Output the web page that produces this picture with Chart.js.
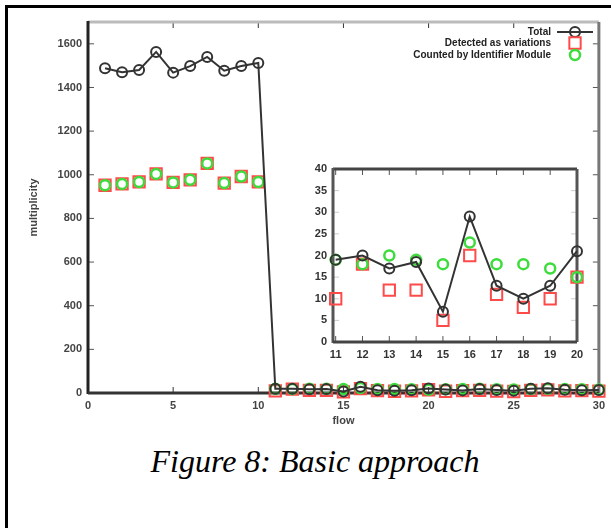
<!DOCTYPE html>
<html>
<head>
<meta charset="utf-8">
<script src="https://cdn.jsdelivr.net/npm/chart.js@4"></script>
<style>
  html, body { margin: 0; padding: 0; background: #fff; overflow: hidden; }
  body { width: 611px; height: 528px; position: relative; }
  .rule { position: absolute; background: #000; }
  #main { position: absolute; left: 0; top: 0; }
  #inset { position: absolute; left: 290px; top: 155px; }
  #caption { position: absolute; left: 0; width: 630px; top: 443px; text-align: center;
    font-family: "Liberation Serif", serif; font-style: italic; font-size: 32px; color: #000; }
</style>
</head>
<body>
<div class="rule" style="left:5px; top:5px; width:606px; height:3px;"></div>
<div class="rule" style="left:5px; top:5px; width:3px; height:523px;"></div>
<canvas id="main" width="611" height="440"></canvas>
<canvas id="inset" width="300" height="210"></canvas>
<div id="caption">Figure 8: Basic approach</div>
<script>
var flows = [1, 2, 3, 4, 5, 6, 7, 8, 9, 10, 11, 12, 13, 14, 15, 16, 17, 18, 19, 20, 21, 22, 23, 24, 25, 26, 27, 28, 29, 30];
var total = [1488, 1470, 1480, 1563, 1468, 1498, 1540, 1477, 1498, 1512,
  19, 20, 17, 18.5, 7, 29, 13, 10, 13, 21,
  16, 12, 18, 14, 10, 19, 22, 15, 13, 14];
var detected = [952, 958, 967, 1004, 965, 977, 1052, 962, 992, 967,
  10, 18, 12, 12, 5, 20, 11, 8, 10, 15,
  8, 11, 12, 9, 7, 12, 14, 10, 11, 9];
var counted = [952, 958, 967, 1004, 965, 977, 1052, 962, 992, 967,
  19, 18, 20, 19, 18, 23, 18, 18, 17, 15,
  17, 18, 19, 17, 16, 18, 20, 18, 17, 16];
var labels = ["Total", "Detected as variations", "Counted by Identifier Module"];

var mainXTicks = [0, 5, 10, 15, 20, 25, 30];
var mainYTicks = [0, 200, 400, 600, 800, 1000, 1200, 1400, 1600];
var insetXTicks = [11, 12, 13, 14, 15, 16, 17, 18, 19, 20];
var insetYTicks = [0, 5, 10, 15, 20, 25, 30, 35, 40];

var tickFont = { family: "Liberation Sans", size: 11, weight: "bold" };

function points(ys, from, to) {
  var out = [];
  for (var i = from; i < to; i++) out.push({ x: flows[i], y: ys[i] });
  return out;
}

function makeDatasets(from, to) {
  return [{
    label: labels[0],
    data: points(total, from, to),
    borderColor: "#333",
    borderWidth: 2,
    pointStyle: "circle",
    pointRadius: 5,
    pointBorderWidth: 2,
    pointBorderColor: "#333",
    pointBackgroundColor: "rgba(0,0,0,0)",
    showLine: true,
    order: 1
  }, {
    label: labels[1],
    data: points(detected, from, to),
    showLine: false,
    pointStyle: "rect",
    pointRadius: 8,
    pointBorderWidth: 2,
    pointBorderColor: "#ff4a4a",
    pointBackgroundColor: "rgba(0,0,0,0)",
    order: 3
  }, {
    label: labels[2],
    data: points(counted, from, to),
    showLine: false,
    pointStyle: "circle",
    pointRadius: 5,
    pointBorderWidth: 2.5,
    pointBorderColor: "#3ddc3d",
    pointBackgroundColor: "rgba(0,0,0,0)",
    order: 2
  }];
}

function fixTicks(values) {
  return function (scale) {
    scale.ticks = values.map(function (v) { return { value: v }; });
  };
}

function plain(v) { return String(v); }

// frame lines + inward tick marks
function framePlugin(style) {
  return {
    id: "frameLines",
    beforeDatasetsDraw: function (chart) {
      var a = chart.chartArea, ctx = chart.ctx;
      var xs = chart.scales.x, ys = chart.scales.y;
      ctx.save();
      ctx.lineWidth = 1;
      ctx.strokeStyle = style.tick;
      xs.ticks.forEach(function (t) {
        var px = xs.getPixelForValue(t.value);
        ctx.beginPath();
        ctx.moveTo(px, a.bottom); ctx.lineTo(px, a.bottom - 6);
        ctx.moveTo(px, a.top); ctx.lineTo(px, a.top + 6);
        ctx.stroke();
      });
      ctx.strokeStyle = style.ytick;
      ys.ticks.forEach(function (t) {
        var py = ys.getPixelForValue(t.value);
        ctx.beginPath();
        ctx.moveTo(a.left, py); ctx.lineTo(a.left + 6, py);
        ctx.moveTo(a.right, py); ctx.lineTo(a.right - 6, py);
        ctx.stroke();
      });
      ctx.lineWidth = 3;
      ctx.strokeStyle = style.top;
      ctx.beginPath(); ctx.moveTo(a.left, a.top); ctx.lineTo(a.right, a.top); ctx.stroke();
      ctx.strokeStyle = style.right;
      ctx.beginPath(); ctx.moveTo(a.right, a.top); ctx.lineTo(a.right, a.bottom); ctx.stroke();
      ctx.strokeStyle = style.left;
      ctx.beginPath(); ctx.moveTo(a.left, a.top - 1); ctx.lineTo(a.left, a.bottom + 1); ctx.stroke();
      ctx.strokeStyle = style.bottom;
      ctx.beginPath(); ctx.moveTo(a.left, a.bottom); ctx.lineTo(a.right, a.bottom); ctx.stroke();
      ctx.restore();
    }
  };
}

// legend in the top right, text on the left of its sample
var legendPlugin = {
  id: "keyBox",
  afterDraw: function (chart) {
    var ctx = chart.ctx;
    ctx.save();
    ctx.font = "bold 10px 'Liberation Sans'";
    ctx.fillStyle = "#222";
    ctx.textAlign = "right";
    ctx.textBaseline = "middle";
    var rows = [32, 43, 55];
    chart.data.datasets.forEach(function (ds, i) {
      var y = rows[i];
      ctx.fillText(ds.label, 551, y);
      if (ds.showLine) {
        ctx.strokeStyle = ds.borderColor;
        ctx.lineWidth = 2;
        ctx.beginPath(); ctx.moveTo(557, y); ctx.lineTo(593, y); ctx.stroke();
      }
      ctx.strokeStyle = ds.pointBorderColor;
      ctx.lineWidth = ds.pointBorderWidth;
      ctx.beginPath();
      if (ds.pointStyle === "rect") {
        var s = ds.pointRadius * Math.SQRT1_2;
        ctx.rect(575 - s, y - s, 2 * s, 2 * s);
      } else {
        ctx.arc(575, y, ds.pointRadius, 0, Math.PI * 2);
      }
      ctx.stroke();
    });
    ctx.restore();
  }
};

new Chart(document.getElementById("main").getContext("2d"), {
  type: "scatter",
  data: { datasets: makeDatasets(0, 30) },
  options: {
    responsive: false,
    animation: false,
    clip: false,
    layout: { padding: { left: 20, top: 22, right: 6, bottom: 0 } },
    plugins: { legend: { display: false }, tooltip: { enabled: false } },
    scales: {
      x: {
        type: "linear", min: 0, max: 30,
        afterBuildTicks: fixTicks(mainXTicks),
        afterFit: function (s) { s.height = 47; },
        grid: { display: false, drawTicks: false },
        border: { display: false },
        ticks: { font: tickFont, color: "#444", padding: 6, callback: plain },
        title: { display: true, text: "flow", font: tickFont, color: "#444", padding: { top: 0, bottom: 12 } }
      },
      y: {
        type: "linear", min: 0, max: 1700,
        afterBuildTicks: fixTicks(mainYTicks),
        afterFit: function (s) { s.width = 68; },
        grid: { display: false, drawTicks: false },
        border: { display: false },
        ticks: { font: tickFont, color: "#444", padding: 6, callback: plain },
        title: { display: true, text: "multiplicity", font: tickFont, color: "#444", padding: { top: 7, bottom: 0 } }
      }
    }
  },
  plugins: [framePlugin({ tick: "#333", ytick: "#555", top: "#bbb", right: "#777", left: "#222", bottom: "#333" }), legendPlugin]
});

new Chart(document.getElementById("inset").getContext("2d"), {
  type: "scatter",
  data: { datasets: makeDatasets(10, 20) },
  options: {
    responsive: false,
    animation: false,
    clip: false,
    layout: { padding: { left: 0, top: 14, right: 13, bottom: 0 } },
    plugins: { legend: { display: false }, tooltip: { enabled: false } },
    scales: {
      x: {
        type: "linear", min: 10.9, max: 20,
        afterBuildTicks: fixTicks(insetXTicks),
        afterFit: function (s) { s.height = 23; },
        grid: { display: false, drawTicks: false },
        border: { display: false },
        ticks: { font: tickFont, color: "#333", padding: 6, callback: plain }
      },
      y: {
        type: "linear", min: 0, max: 40,
        afterBuildTicks: fixTicks(insetYTicks),
        afterFit: function (s) { s.width = 43; },
        grid: { display: false, drawTicks: false },
        border: { display: false },
        ticks: { font: tickFont, color: "#333", padding: 6, callback: plain }
      }
    }
  },
  plugins: [framePlugin({ tick: "#555", ytick: "#ccc", top: "#444", right: "#555", left: "#555", bottom: "#444" })]
});
</script>
</body>
</html>
